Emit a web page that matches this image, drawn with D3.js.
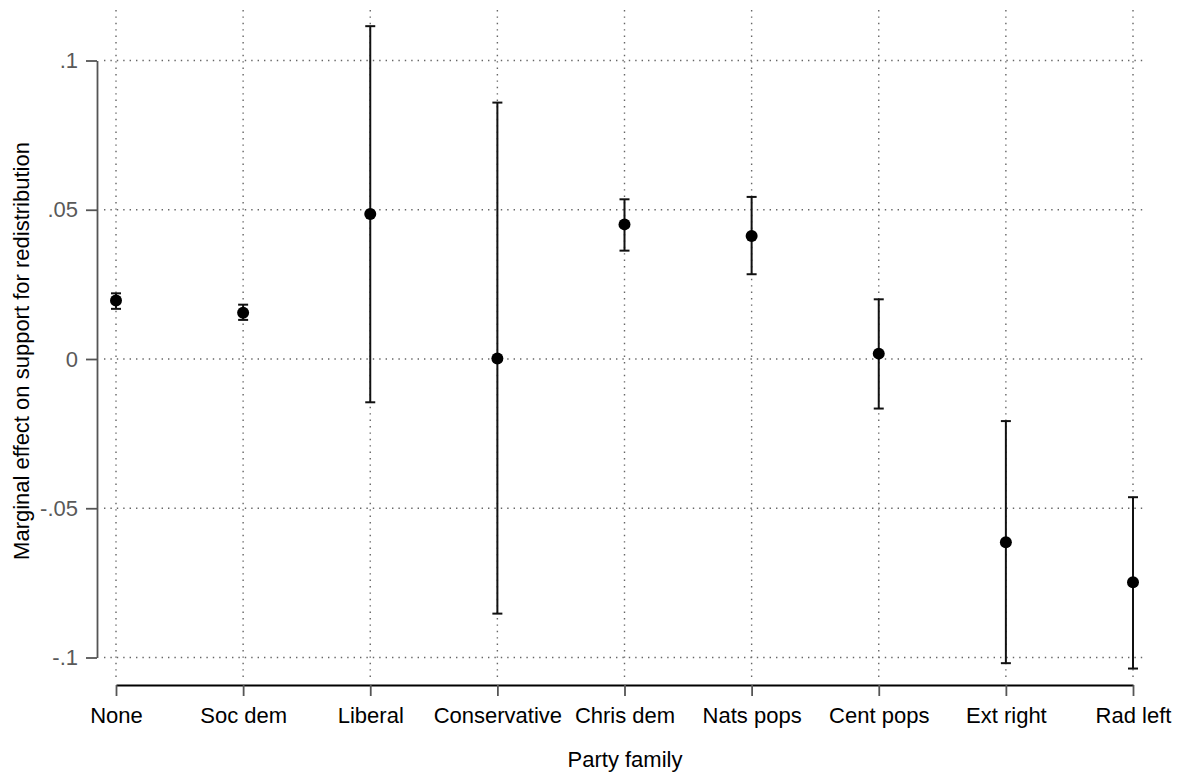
<!DOCTYPE html>
<html>
<head>
<meta charset="utf-8">
<script src="https://cdn.jsdelivr.net/npm/d3@7"></script>
<style>
  body { margin: 0; background: #fff; }
  svg { font-family: Arial, "Liberation Sans", sans-serif; }
</style>
</head>
<body>
<svg width="1179" height="773"></svg>
<script>
// party families on the x axis
let families = ["None", "Soc dem", "Liberal", "Conservative", "Chris dem", "Nats pops", "Cent pops", "Ext right", "Rad left"];
// marginal effects and 95% CI
let estimates = [0.0196, 0.0155, 0.0486, 0.0002, 0.0451, 0.0412, 0.0018, -0.0614, -0.0748];
let ciLow = [0.0168, 0.0131, -0.0145, -0.0853, 0.0363, 0.0284, -0.0166, -0.1019, -0.1037];
let ciHigh = [0.0220, 0.0182, 0.1115, 0.0859, 0.0535, 0.0543, 0.0200, -0.0208, -0.0463];
let yTicks = [-0.1, -0.05, 0, 0.05, 0.1];
let yTickLabels = ["-.1", "-.05", "0", ".05", ".1"];

let data = families.map((f, i) => ({ family: f, est: estimates[i], lo: ciLow[i], hi: ciHigh[i] }));

let svg = d3.select('svg');

let xScale = d3.scalePoint()
    .domain(families)
    .range([116, 1133]);

let yScale = d3.scaleLinear()
    .domain([-0.1, 0.1])
    .range([657.5, 60.5]);

let gridLeft = 104, gridRight = 1147, gridTop = 10, gridBottom = 680;

// dotted grid
svg.append('g').selectAll('line')
    .data(yTicks)
    .enter().append('line')
    .attr('x1', gridLeft).attr('x2', gridRight)
    .attr('y1', d => yScale(d)).attr('y2', d => yScale(d))
    .style('stroke', '#666')
    .style('stroke-width', 1.4)
    .style('stroke-dasharray', '1.4,5');

svg.append('g').selectAll('line')
    .data(families)
    .enter().append('line')
    .attr('x1', d => xScale(d)).attr('x2', d => xScale(d))
    .attr('y1', gridTop).attr('y2', gridBottom)
    .style('stroke', '#666')
    .style('stroke-width', 1.4)
    .style('stroke-dasharray', '1.4,5');

// y axis (line only spans the tick range)
let yAxis = d3.axisLeft(yScale)
    .tickValues(yTicks)
    .tickFormat((d, i) => yTickLabels[i])
    .tickSize(11)
    .tickSizeOuter(0)
    .tickPadding(8);

let gy = svg.append('g')
    .attr('class', 'y-axis')
    .attr('transform', 'translate(97,0)')
    .call(yAxis);
gy.select('.domain').style('stroke', '#555').style('stroke-width', 1.8);
gy.selectAll('.tick line').style('stroke', '#555').style('stroke-width', 1.8);
gy.selectAll('.tick text')
    .style('fill', '#595959')
    .style('font-size', '22px')
    .style('font-family', 'Arial, "Liberation Sans", sans-serif');

// x axis
let xAxis = d3.axisBottom(xScale)
    .tickSize(11)
    .tickSizeOuter(0)
    .tickPadding(11);

let gx = svg.append('g')
    .attr('class', 'x-axis')
    .attr('transform', 'translate(0,685)')
    .call(xAxis);
gx.select('.domain').style('stroke', '#000').style('stroke-width', 1.8);
gx.selectAll('.tick line').style('stroke', '#555').style('stroke-width', 1.8);
gx.selectAll('.tick text')
    .style('fill', '#000')
    .style('font-size', '22px')
    .style('font-family', 'Arial, "Liberation Sans", sans-serif');

// axis titles
svg.append('text')
    .attr('transform', 'translate(29,' + 351 + ') rotate(-90)')
    .style('text-anchor', 'middle')
    .style('font-size', '22px')
    .style('fill', '#000')
    .text('Marginal effect on support for redistribution');

svg.append('text')
    .attr('x', 625)
    .attr('y', 767)
    .style('text-anchor', 'middle')
    .style('font-size', '22px')
    .style('fill', '#000')
    .text('Party family');

// error bars
let bars = svg.append('g').selectAll('.ci')
    .data(data)
    .enter().append('g')
    .attr('class', 'ci');

bars.append('line')
    .attr('x1', d => xScale(d.family)).attr('x2', d => xScale(d.family))
    .attr('y1', d => yScale(d.lo)).attr('y2', d => yScale(d.hi))
    .style('stroke', '#111').style('stroke-width', 2);

bars.append('line')
    .attr('x1', d => xScale(d.family) - 5).attr('x2', d => xScale(d.family) + 5)
    .attr('y1', d => yScale(d.lo)).attr('y2', d => yScale(d.lo))
    .style('stroke', '#111').style('stroke-width', 2);

bars.append('line')
    .attr('x1', d => xScale(d.family) - 5).attr('x2', d => xScale(d.family) + 5)
    .attr('y1', d => yScale(d.hi)).attr('y2', d => yScale(d.hi))
    .style('stroke', '#111').style('stroke-width', 2);

// point estimates
svg.append('g').selectAll('.point')
    .data(data)
    .enter().append('circle')
    .attr('class', 'point')
    .attr('cx', d => xScale(d.family))
    .attr('cy', d => yScale(d.est))
    .attr('r', 6)
    .style('fill', '#000');
</script>
</body>
</html>
